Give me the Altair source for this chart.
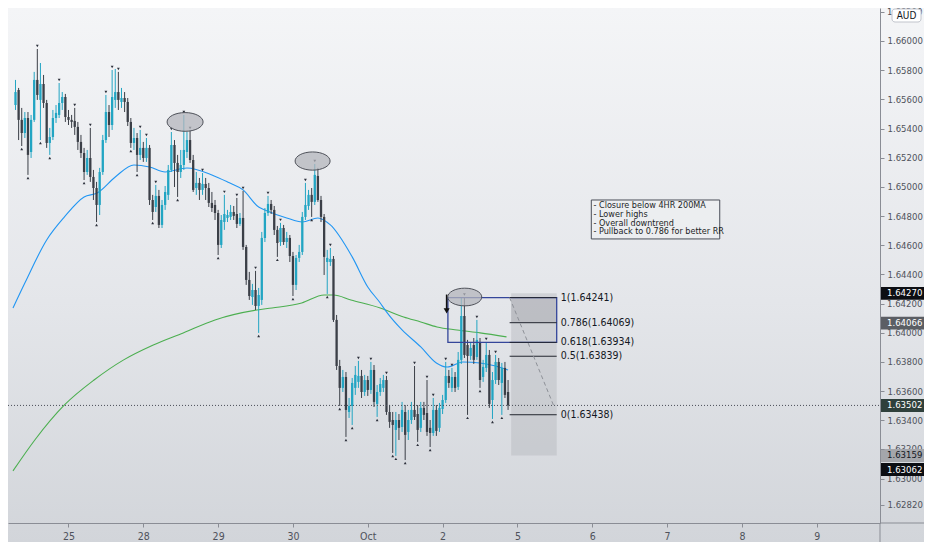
import altair as alt
import pandas as pd

# hourly candles, Sep 24 - Oct 2 (price quoted in AUD)
OPEN = [
    1.65321, 1.65445, 1.65513, 1.65561, 1.65664, 1.65459, 1.65369, 1.65472, 1.65239, 1.65459,
    1.65733, 1.65596, 1.65705, 1.65575, 1.65301, 1.65342, 1.65472, 1.65493, 1.65575, 1.65616,
    1.65479, 1.65459, 1.65452, 1.65411, 1.65308, 1.65232, 1.65102, 1.65198, 1.65068, 1.64992,
    1.64876, 1.65102, 1.65321, 1.65513, 1.65424, 1.65596, 1.65650, 1.65582, 1.65609, 1.65582,
    1.65445, 1.65301, 1.65335, 1.65219, 1.65267, 1.65198, 1.65267, 1.64910, 1.64862, 1.64938,
    1.64739, 1.64876, 1.64945, 1.65116, 1.65287, 1.65164, 1.65102, 1.65150, 1.65239, 1.65321,
    1.65184, 1.64992, 1.65027, 1.64979, 1.65020, 1.64992, 1.64890, 1.64876, 1.64821, 1.64602,
    1.64759, 1.64787, 1.64794, 1.64828, 1.64814, 1.64746, 1.64787, 1.64588, 1.64362, 1.64245,
    1.64293, 1.64184, 1.64225, 1.64650, 1.64821, 1.64883, 1.64842, 1.64705, 1.64622, 1.64718,
    1.64622, 1.64650, 1.64526, 1.64328, 1.64513, 1.64554, 1.64794, 1.64869, 1.64945, 1.64897,
    1.65075, 1.64910, 1.64794, 1.64485, 1.64485, 1.64506, 1.64088, 1.63772, 1.63622, 1.63697,
    1.63457, 1.63498, 1.63622, 1.63663, 1.63704, 1.63594, 1.63676, 1.63608, 1.63745, 1.63512,
    1.63594, 1.63622, 1.63676, 1.63457, 1.63402, 1.63334, 1.63402, 1.63354, 1.63457, 1.63320,
    1.63402, 1.63471, 1.63443, 1.63348, 1.63485, 1.63450, 1.63348, 1.63313, 1.63471, 1.63348,
    1.63478, 1.63539, 1.63704, 1.63622, 1.63697, 1.63629, 1.63814, 1.64115, 1.63916, 1.63841,
    1.63916, 1.63834, 1.63937, 1.63697, 1.63759, 1.63848, 1.63539, 1.63676, 1.63800, 1.63656,
    1.63759, 1.63594,
]
HIGH = [
    1.65493, 1.65596, 1.65781, 1.65733, 1.65678, 1.65541, 1.65513, 1.65513, 1.65493, 1.65788,
    1.65945, 1.65849, 1.65767, 1.65596, 1.65404, 1.65527, 1.65561, 1.65712, 1.65650, 1.65637,
    1.65527, 1.65493, 1.65541, 1.65445, 1.65356, 1.65267, 1.65253, 1.65404, 1.65116, 1.65034,
    1.65130, 1.65356, 1.65630, 1.65561, 1.65801, 1.65808, 1.65788, 1.65678, 1.65650, 1.65609,
    1.65472, 1.65404, 1.65369, 1.65390, 1.65308, 1.65335, 1.65287, 1.64945, 1.65013, 1.64979,
    1.64910, 1.65006, 1.65150, 1.65376, 1.65321, 1.65219, 1.65253, 1.65493, 1.65376, 1.65383,
    1.65219, 1.65102, 1.65061, 1.65095, 1.65061, 1.65027, 1.64965, 1.64910, 1.64842, 1.64807,
    1.64945, 1.64842, 1.64876, 1.64869, 1.64924, 1.64821, 1.64972, 1.64602, 1.64417, 1.64335,
    1.64424, 1.64307, 1.64691, 1.64855, 1.64938, 1.64910, 1.64869, 1.64732, 1.64753, 1.64739,
    1.64691, 1.64670, 1.64554, 1.64533, 1.64602, 1.64828, 1.65027, 1.64979, 1.64992, 1.65157,
    1.65130, 1.64938, 1.64814, 1.64568, 1.64581, 1.64526, 1.64122, 1.63814, 1.63745, 1.63731,
    1.63553, 1.63690, 1.63772, 1.63807, 1.63745, 1.63711, 1.63704, 1.63800, 1.63779, 1.63642,
    1.63690, 1.63711, 1.63704, 1.63505, 1.63457, 1.63457, 1.63443, 1.63526, 1.63505, 1.63471,
    1.63526, 1.63772, 1.63505, 1.63526, 1.63526, 1.63676, 1.63402, 1.63553, 1.63505, 1.63519,
    1.63574, 1.63800, 1.63745, 1.63759, 1.63731, 1.63868, 1.64239, 1.64241, 1.63951, 1.63937,
    1.63964, 1.64088, 1.63964, 1.63814, 1.63937, 1.63882, 1.63731, 1.63848, 1.63827, 1.63793,
    1.63800, 1.63676,
]
LOW = [
    1.65273, 1.65424, 1.65472, 1.65527, 1.65321, 1.65280, 1.65335, 1.65082, 1.65198, 1.65445,
    1.65596, 1.65321, 1.65541, 1.65267, 1.65219, 1.65321, 1.65438, 1.65472, 1.65527, 1.65445,
    1.65424, 1.65404, 1.65356, 1.65253, 1.65198, 1.65047, 1.65082, 1.65034, 1.64910, 1.64759,
    1.64807, 1.65082, 1.65301, 1.65342, 1.65390, 1.65541, 1.65527, 1.65541, 1.65513, 1.65417,
    1.65267, 1.65253, 1.65102, 1.65184, 1.65171, 1.65171, 1.64876, 1.64773, 1.64828, 1.64718,
    1.64718, 1.64842, 1.64910, 1.65102, 1.64999, 1.64931, 1.65061, 1.65116, 1.65198, 1.65164,
    1.64965, 1.64945, 1.64910, 1.64945, 1.64910, 1.64862, 1.64828, 1.64773, 1.64533, 1.64581,
    1.64705, 1.64759, 1.64773, 1.64773, 1.64718, 1.64732, 1.64568, 1.64328, 1.64225, 1.64191,
    1.64156, 1.63999, 1.64191, 1.64622, 1.64801, 1.64814, 1.64670, 1.64520, 1.64595, 1.64602,
    1.64581, 1.64485, 1.64252, 1.64293, 1.64485, 1.64533, 1.64773, 1.64842, 1.64794, 1.64876,
    1.64897, 1.64759, 1.64396, 1.64266, 1.64458, 1.64074, 1.63745, 1.63498, 1.63594, 1.63286,
    1.63416, 1.63368, 1.63574, 1.63622, 1.63553, 1.63567, 1.63567, 1.63581, 1.63491, 1.63423,
    1.63567, 1.63594, 1.63437, 1.63348, 1.63176, 1.63156, 1.63265, 1.63320, 1.63128, 1.63265,
    1.63375, 1.63402, 1.63252, 1.63320, 1.63402, 1.63293, 1.63217, 1.63293, 1.63293, 1.63320,
    1.63443, 1.63519, 1.63622, 1.63594, 1.63594, 1.63608, 1.63786, 1.63827, 1.63437, 1.63814,
    1.63786, 1.63814, 1.63622, 1.63663, 1.63731, 1.63485, 1.63409, 1.63649, 1.63642, 1.63437,
    1.63553, 1.63471,
]
CLOSE = [
    1.65445, 1.65541, 1.65582, 1.65650, 1.65459, 1.65369, 1.65472, 1.65219, 1.65459, 1.65733,
    1.65630, 1.65705, 1.65575, 1.65301, 1.65342, 1.65472, 1.65507, 1.65575, 1.65616, 1.65479,
    1.65459, 1.65445, 1.65411, 1.65308, 1.65232, 1.65102, 1.65198, 1.65068, 1.64992, 1.64876,
    1.65102, 1.65321, 1.65513, 1.65424, 1.65616, 1.65650, 1.65596, 1.65609, 1.65582, 1.65445,
    1.65301, 1.65335, 1.65219, 1.65267, 1.65198, 1.65267, 1.64910, 1.64828, 1.64938, 1.64739,
    1.64876, 1.64965, 1.65116, 1.65287, 1.65164, 1.65102, 1.65150, 1.65253, 1.65321, 1.65184,
    1.64979, 1.65027, 1.64979, 1.65020, 1.64992, 1.64890, 1.64855, 1.64821, 1.64602, 1.64773,
    1.64814, 1.64807, 1.64828, 1.64801, 1.64746, 1.64787, 1.64588, 1.64362, 1.64252, 1.64293,
    1.64184, 1.64259, 1.64650, 1.64821, 1.64883, 1.64842, 1.64705, 1.64615, 1.64718, 1.64622,
    1.64650, 1.64526, 1.64328, 1.64513, 1.64554, 1.64794, 1.64876, 1.64945, 1.64897, 1.65082,
    1.64910, 1.64794, 1.64520, 1.64513, 1.64506, 1.64088, 1.63772, 1.63622, 1.63697, 1.63471,
    1.63498, 1.63656, 1.63711, 1.63704, 1.63594, 1.63676, 1.63608, 1.63745, 1.63526, 1.63594,
    1.63649, 1.63676, 1.63457, 1.63389, 1.63368, 1.63402, 1.63348, 1.63471, 1.63300, 1.63402,
    1.63471, 1.63423, 1.63334, 1.63485, 1.63437, 1.63320, 1.63313, 1.63471, 1.63327, 1.63485,
    1.63539, 1.63704, 1.63656, 1.63697, 1.63622, 1.63814, 1.64115, 1.63848, 1.63841, 1.63896,
    1.63814, 1.63951, 1.63676, 1.63766, 1.63848, 1.63512, 1.63676, 1.63800, 1.63676, 1.63759,
    1.63574, 1.63502,
]

# bars carrying a fractal marker
FRACTAL_HIGHS = [2, 10, 17, 22, 27, 32, 34, 36, 43, 45, 48, 53, 57, 59, 63, 70, 74, 76, 80, 84,
                 88, 96, 99, 104, 113, 117, 122, 131, 135, 137, 141, 143, 147, 151, 154, 157]
FRACTAL_LOWS = [5, 7, 11, 14, 25, 29, 40, 42, 47, 55, 68, 81, 87, 92, 98, 103, 107, 109, 111,
                119, 124, 125, 128, 132, 136, 148, 152, 156, 159]

# moving averages (bar index, price)
FAST_MA_BAR = [2.2, 6, 13, 18.7, 25, 29.2, 35, 41, 46, 51, 58, 66, 71, 76, 81, 83, 90, 95, 100,
               104, 111, 116, 120, 122, 127, 133, 138, 141.5, 146.5, 152, 157, 161]
FAST_MA = [1.64170, 1.64341, 1.64636, 1.64794, 1.64931, 1.64958, 1.65068, 1.65150, 1.65136,
           1.65102, 1.65129, 1.65082, 1.65034, 1.64979, 1.64862, 1.64842, 1.64787, 1.64759,
           1.64787, 1.64739, 1.64520, 1.64314, 1.64204, 1.64143, 1.64019, 1.63903, 1.63793,
           1.63765, 1.63800, 1.63793, 1.63772, 1.63745]
SLOW_MA_BAR = [2.2, 9.2, 18.7, 28.2, 37.7, 47.2, 56.8, 67, 80.5, 85.3, 94.8, 102, 105, 110.6, 120,
               127.5, 133, 138.2, 144.6, 152, 160.5]
SLOW_MA = [1.63053, 1.63265, 1.63505, 1.63676, 1.63814, 1.63916, 1.63999, 1.64088, 1.64156,
           1.64170, 1.64204, 1.64259, 1.64259, 1.64225, 1.64170, 1.64108, 1.64074, 1.64040,
           1.64019, 1.63999, 1.63972]

DAY_BARS = [20, 44, 68, 92, 116, 140, 164, 188, 212, 236, 260]
DAY_LABELS = ["25", "28", "29", "30", "Oct", "2", "5", "6", "7", "8", "9"]

PRICE_TICKS = [1.662, 1.66, 1.658, 1.656, 1.654, 1.652, 1.65, 1.648, 1.646, 1.644, 1.642,
               1.64, 1.638, 1.636, 1.634, 1.632, 1.63, 1.6282]
COVERED_TICKS = [1.662, 1.642, 1.64, 1.632, 1.63]

FIB_LEVELS = ["1", "0.786", "0.618", "0.5", "0"]
FIB_PRICES = [1.64241, 1.64069, 1.63934, 1.63839, 1.63438]

TAG_PRICES = [1.6427, 1.64066, 1.63502, 1.63159, 1.63062]
TAG_FILLS = ["#0c0e13", "#5b5e64", "#2f403c", "#a4a6ab", "#0c0e13"]
TAG_TEXT = ["#ffffff", "#ffffff", "#ffffff", "#131722", "#ffffff"]

NOTES = [
    "- Closure below 4HR 200MA",
    "- Lower highs",
    "- Overall downtrend",
    "- Pullback to 0.786 for better RR",
]
NOTE_PRICES = [1.64873, 1.64815, 1.64753, 1.64695]

WIDTH, HEIGHT = 872, 515
FULL_W, FULL_H = 916, 534
FONT = "Liberation Sans Narrow, DejaVu Sans Condensed, Liberation Sans, sans-serif"
TEAL, DARK = "#22a5c3", "#3b3f47"
LABEL_GREY = "#4f525b"
SCALE_FS = 9.5
X_MIN, X_MAX = 2.2, 278.7

x_scale = alt.Scale(domain=[X_MIN, X_MAX], nice=False, zero=False)
y_scale = alt.Scale(domain=[1.62696, 1.66226], nice=False, zero=False)

day_expr = "''"
for b, lab in reversed(list(zip(DAY_BARS, DAY_LABELS))):
    day_expr = f"datum.value == {b} ? '{lab}' : ({day_expr})"

x_axis = alt.Axis(
    values=DAY_BARS, labelExpr=day_expr, grid=False, tickSize=4, labelPadding=4,
    labelFontSize=10.5, labelFont=FONT, labelColor=LABEL_GREY, tickColor="#8a8d95",
    domainColor="#8a8d95", labelOverlap=False, zindex=1,
)
y_axis = alt.Axis(
    orient="right", values=PRICE_TICKS, grid=False, tickSize=4, labelPadding=3,
    labelExpr=f"indexof({COVERED_TICKS}, datum.value) >= 0 ? '' : format(datum.value, '.5f')",
    labelFontSize=SCALE_FS, labelFont=FONT, labelColor=LABEL_GREY, tickColor="#8a8d95",
    domainColor="#8a8d95", labelOverlap=False, zindex=1,
)


def X(field, **kw):
    return alt.X(field, type="quantitative", scale=x_scale, axis=x_axis, title=None, **kw)


def Y(field, **kw):
    return alt.Y(field, type="quantitative", scale=y_scale, axis=y_axis, title=None, **kw)


bars = pd.DataFrame({"bar": range(len(OPEN)), "open": OPEN, "high": HIGH,
                     "low": LOW, "close": CLOSE})
bars["dir"] = ["up" if c >= o else "down" for o, c in zip(OPEN, CLOSE)]
# only the candles whose centre lies inside the visible window
bars = bars[bars["bar"] >= 3]
dir_color = alt.Color("dir:N", scale=alt.Scale(domain=["up", "down"], range=[TEAL, DARK]),
                      legend=None)

one = pd.DataFrame({"a": [0]})

gradient = alt.Gradient(
    gradient="linear",
    stops=[alt.GradientStop(offset=0, color="#f4f5f7"),
           alt.GradientStop(offset=0.55, color="#e4e6ea"),
           alt.GradientStop(offset=1, color="#d2d5da")],
    x1=0, x2=0, y1=0, y2=1,
)
background = alt.Chart(one).mark_rect(color=gradient).encode(
    x=alt.value(0), x2=alt.value(FULL_W), y=alt.value(0), y2=alt.value(FULL_H)
)

# notes box
notes_box = alt.Chart(one).mark_rect(
    fill="#eef0f2", fillOpacity=0.6, stroke="#4a4e58", strokeWidth=1
).encode(x=X("x0:Q"), x2="x1:Q", y=Y("y0:Q"), y2="y1:Q").transform_calculate(
    x0="187.7", x1="228.9", y0="1.64910", y1="1.64643"
)
notes = pd.DataFrame({"text": NOTES, "price": NOTE_PRICES, "bar": [188.4] * len(NOTES)})
notes_text = alt.Chart(notes).mark_text(
    align="left", baseline="middle", fontSize=9, font=FONT, color="#1c1f26"
).encode(x=X("bar"), y=Y("price"), text="text:N")

# moving averages
fast = alt.Chart(pd.DataFrame({"bar": FAST_MA_BAR, "ma": FAST_MA})).mark_line(
    color="#2196f3", strokeWidth=1.1, interpolate="monotone", clip=True
).encode(x=X("bar"), y=Y("ma"))
slow = alt.Chart(pd.DataFrame({"bar": SLOW_MA_BAR, "ma": SLOW_MA})).mark_line(
    color="#4caf50", strokeWidth=1.1, interpolate="monotone", clip=True
).encode(x=X("bar"), y=Y("ma"))

# candles
wicks = alt.Chart(bars).mark_rule(strokeWidth=1, clip=True).encode(
    x=X("bar"), y=Y("high"), y2="low", color=dir_color
)
bodies = alt.Chart(bars).mark_bar(size=2.3, clip=True).encode(
    x=X("bar"), y=Y("open"), y2="close", color=dir_color
)
highs = bars[bars["bar"].isin(FRACTAL_HIGHS)]
lows = bars[bars["bar"].isin(FRACTAL_LOWS)]
frac_hi = alt.Chart(highs).mark_point(
    shape="triangle-down", size=8, filled=True, opacity=1, color="#2a2e39", yOffset=-3, clip=True
).encode(x=X("bar"), y=Y("high"))
frac_lo = alt.Chart(lows).mark_point(
    shape="triangle-up", size=8, filled=True, opacity=1, color="#2a2e39", yOffset=3, clip=True
).encode(x=X("bar"), y=Y("low"))

last_price = alt.Chart(pd.DataFrame({"price": [CLOSE[-1]]})).mark_rule(
    color="#4a4d57", strokeWidth=1, strokeDash=[1, 2]
).encode(x=alt.value(0), x2=alt.value(WIDTH), y=Y("price"))

# fib / position tool
column = alt.Chart(pd.DataFrame({"b0": [162], "b1": [176.6], "p0": [1.6427], "p1": [1.63159]})).mark_rect(
    color="#aeb0b6", opacity=0.38
).encode(x=X("b0"), x2="b1", y=Y("p0"), y2="p1")
zone = alt.Chart(pd.DataFrame({"b0": [162], "b1": [176.6], "p0": [FIB_PRICES[0]], "p1": [FIB_PRICES[1]]})).mark_rect(
    color="#9a9ca2", opacity=0.35
).encode(x=X("b0"), x2="b1", y=Y("p0"), y2="p1")
blue_box = alt.Chart(pd.DataFrame({"b0": [141.7], "b1": [176.6], "p0": [FIB_PRICES[0]], "p1": [FIB_PRICES[2]]})).mark_rect(
    fillOpacity=0, stroke="#34469a", strokeWidth=1.3
).encode(x=X("b0"), x2="b1", y=Y("p0"), y2="p1")
fib = pd.DataFrame({"level": FIB_LEVELS, "price": FIB_PRICES})
fib["label"] = [f"{lv}({p:.5f})" for lv, p in zip(FIB_LEVELS, FIB_PRICES)]
fib["b0"], fib["b1"], fib["bt"] = 161.5, 176.6, 177.9
fib_lines = alt.Chart(fib).mark_rule(color="#23262f", strokeWidth=1).encode(
    x=X("b0"), x2="b1", y=Y("price")
)
fib_text = alt.Chart(fib).mark_text(
    align="left", baseline="middle", fontSize=10.5, font=FONT, color="#131722"
).encode(x=X("bt"), y=Y("price"), text="label:N")
diagonal = alt.Chart(pd.DataFrame({"bar": [161.5, 175.6], "price": [FIB_PRICES[0], CLOSE[-1]]})).mark_line(
    color="#8e9198", strokeWidth=1, strokeDash=[4, 3]
).encode(x=X("bar"), y=Y("price"))

arrow_df = pd.DataFrame({"bar": [141.3], "top": [1.64262], "tip": [1.64150]})
arrow = alt.Chart(arrow_df).mark_rule(color="#111111", strokeWidth=1.6).encode(
    x=X("bar"), y=Y("top"), y2="tip"
)
arrow_head = alt.Chart(arrow_df).mark_point(
    shape="triangle-down", size=36, filled=True, opacity=1, color="#111111"
).encode(x=X("bar"), y=Y("tip"))

ELLIPSE = "M-1,0A1,0.52,0,1,0,1,0A1,0.52,0,1,0,-1,0Z"
ellipses = pd.DataFrame({"bar": [57.4, 98.3, 147.1], "price": [1.65445, 1.65177, 1.64245],
                         "size": [1296, 1225, 1156]})
rings = alt.Chart(ellipses).mark_point(
    shape=ELLIPSE, filled=True, fill="#b4b6bc", fillOpacity=0.75, stroke="#4e5159",
    strokeWidth=1, opacity=1
).encode(x=X("bar"), y=Y("price"), size=alt.Size("size:Q", scale=None))

# right-hand price scale tags
LABEL_X = WIDTH + 7
covered = pd.DataFrame({"price": COVERED_TICKS})
covered["text"] = [f"{p:.5f}" for p in COVERED_TICKS]
covered_text = alt.Chart(covered).mark_text(
    align="left", baseline="middle", fontSize=SCALE_FS, font=FONT, color=LABEL_GREY
).encode(x=alt.value(LABEL_X), y=Y("price"), text="text:N")

TAG = "M-1,-0.295L1,-0.295L1,0.295L-1,0.295Z"
tags = pd.DataFrame({"price": TAG_PRICES, "fill": TAG_FILLS, "ink": TAG_TEXT})
tags["text"] = [f"{p:.5f}" for p in TAG_PRICES]
tag_box = alt.Chart(tags).mark_point(shape=TAG, size=1936, filled=True, opacity=1).encode(
    x=alt.value(895), y=Y("price"), color=alt.Color("fill:N", scale=None)
)
tag_text = alt.Chart(tags).mark_text(
    align="left", baseline="middle", fontSize=SCALE_FS, font=FONT
).encode(x=alt.value(LABEL_X), y=Y("price"), text="text:N", color=alt.Color("ink:N", scale=None))

aud_box = alt.Chart(one).mark_rect(
    fill="#ffffff", stroke="#c1c4cc", strokeWidth=1, cornerRadius=3
).encode(x=alt.value(884), x2=alt.value(913), y=alt.value(1), y2=alt.value(14))
aud_text = alt.Chart(one).mark_text(
    text="AUD", fontSize=10, font=FONT, color="#131722", baseline="middle"
).encode(x=alt.value(898.5), y=alt.value(7.5))

edge_v = alt.Chart(one).mark_rule(color="#8a8d95").encode(
    x=alt.value(WIDTH), y=alt.value(HEIGHT), y2=alt.value(FULL_H)
)
edge_h = alt.Chart(one).mark_rule(color="#8a8d95").encode(
    x=alt.value(WIDTH), x2=alt.value(FULL_W), y=alt.value(HEIGHT)
)

chart = (
    alt.layer(
        background, column, zone, notes_box, notes_text, slow, fast, wicks, bodies,
        frac_hi, frac_lo, last_price, blue_box, fib_lines, fib_text, diagonal, arrow,
        arrow_head, rings, covered_text, tag_box, tag_text, aud_box, aud_text, edge_v, edge_h,
    )
    .properties(
        width=WIDTH, height=HEIGHT,
        autosize=alt.AutoSizeParams(type="none"),
        padding={"left": 0, "top": 0, "right": FULL_W - WIDTH, "bottom": FULL_H - HEIGHT},
    )
    .configure_view(stroke=None)
)
chart.save("out.html", embed_options={"renderer": "svg", "actions": False})
